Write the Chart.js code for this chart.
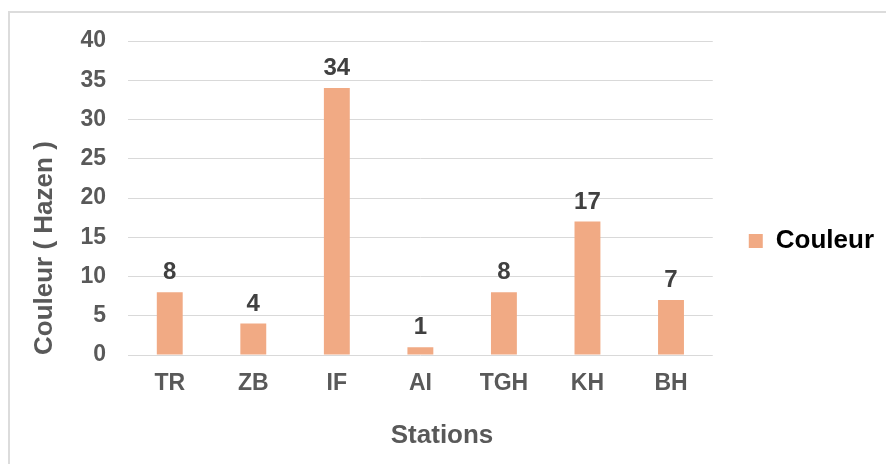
<!DOCTYPE html>
<html>
<head>
<meta charset="utf-8">
<script src="https://cdn.jsdelivr.net/npm/chart.js@4/dist/chart.umd.min.js"></script>
<style>
  body { margin: 0; background: #fff; }
  #frame { position: absolute; left: 8px; top: 11px; width: 900px; height: 500px;
           border-left: 2px solid #dcdcdc; border-top: 2px solid #dcdcdc; }
  #chBar { position: absolute; left: 0; top: 0; }
</style>
</head>
<body>
<div id="frame"></div>
<canvas id="chBar" width="886" height="464"></canvas>
<script>
// data
const stations = ['TR', 'ZB', 'IF', 'AI', 'TGH', 'KH', 'BH'];
const couleur = [8, 4, 34, 1, 8, 17, 7];
const yTicks = [0, 5, 10, 15, 20, 25, 30, 35, 40];

const FONT = '"Liberation Sans", Arial, sans-serif';
const GREY = '#595959';

// value labels on top of each bar
const barLabels = {
  id: 'barLabels',
  afterDatasetsDraw(chart) {
    const ctx = chart.ctx;
    const meta = chart.getDatasetMeta(0);
    ctx.save();
    ctx.font = 'bold 24px ' + FONT;
    ctx.fillStyle = '#404040';
    ctx.textAlign = 'center';
    ctx.textBaseline = 'alphabetic';
    meta.data.forEach(function (bar, i) {
      ctx.fillText(String(couleur[i]), bar.x, bar.y - 13);
    });
    ctx.restore();
  }
};

var chBar = document.getElementById('chBar');
new Chart(chBar, {
  type: 'bar',
  data: {
    labels: stations,
    datasets: [{
      label: 'Couleur',
      data: couleur,
      backgroundColor: '#f1aa84',
      borderWidth: 0,
      barPercentage: 0.31,
      categoryPercentage: 1
    }]
  },
  options: {
    responsive: false,
    animation: false,
    layout: { padding: { top: 41, bottom: 23, left: 0, right: 2 } },
    scales: {
      y: {
        min: 0,
        max: 40,
        afterBuildTicks(axis) { axis.ticks = yTicks.map(v => ({ value: v })); },
        grid: { color: '#d9d9d9', lineWidth: 1, drawTicks: false },
        border: { display: false },
        ticks: { color: GREY, padding: 22, font: { family: FONT, size: 23, weight: 'bold' } },
        title: {
          display: true,
          text: 'Couleur ( Hazen )',
          align: 'start',
          color: GREY,
          font: { family: FONT, size: 26, weight: 'bold' },
          padding: { top: 29.4, bottom: -2.2 }
        }
      },
      x: {
        grid: { display: false, drawTicks: false },
        border: { display: false },
        ticks: { color: GREY, padding: 15, font: { family: FONT, size: 23, weight: 'bold' } },
        title: {
          display: true,
          // leading spaces push the centred title a little right, as in the original
          text: '      Stations',
          color: GREY,
          font: { family: FONT, size: 26, weight: 'bold' },
          padding: { top: 7.8, bottom: -10.6 }
        }
      }
    },
    plugins: {
      legend: {
        position: 'right',
        labels: {
          boxWidth: 14,
          boxHeight: 14,
          padding: 36,
          color: '#000',
          font: { family: FONT, size: 26, weight: 'bold' }
        }
      },
      tooltip: { enabled: false }
    }
  },
  plugins: [barLabels]
});
</script>
</body>
</html>
